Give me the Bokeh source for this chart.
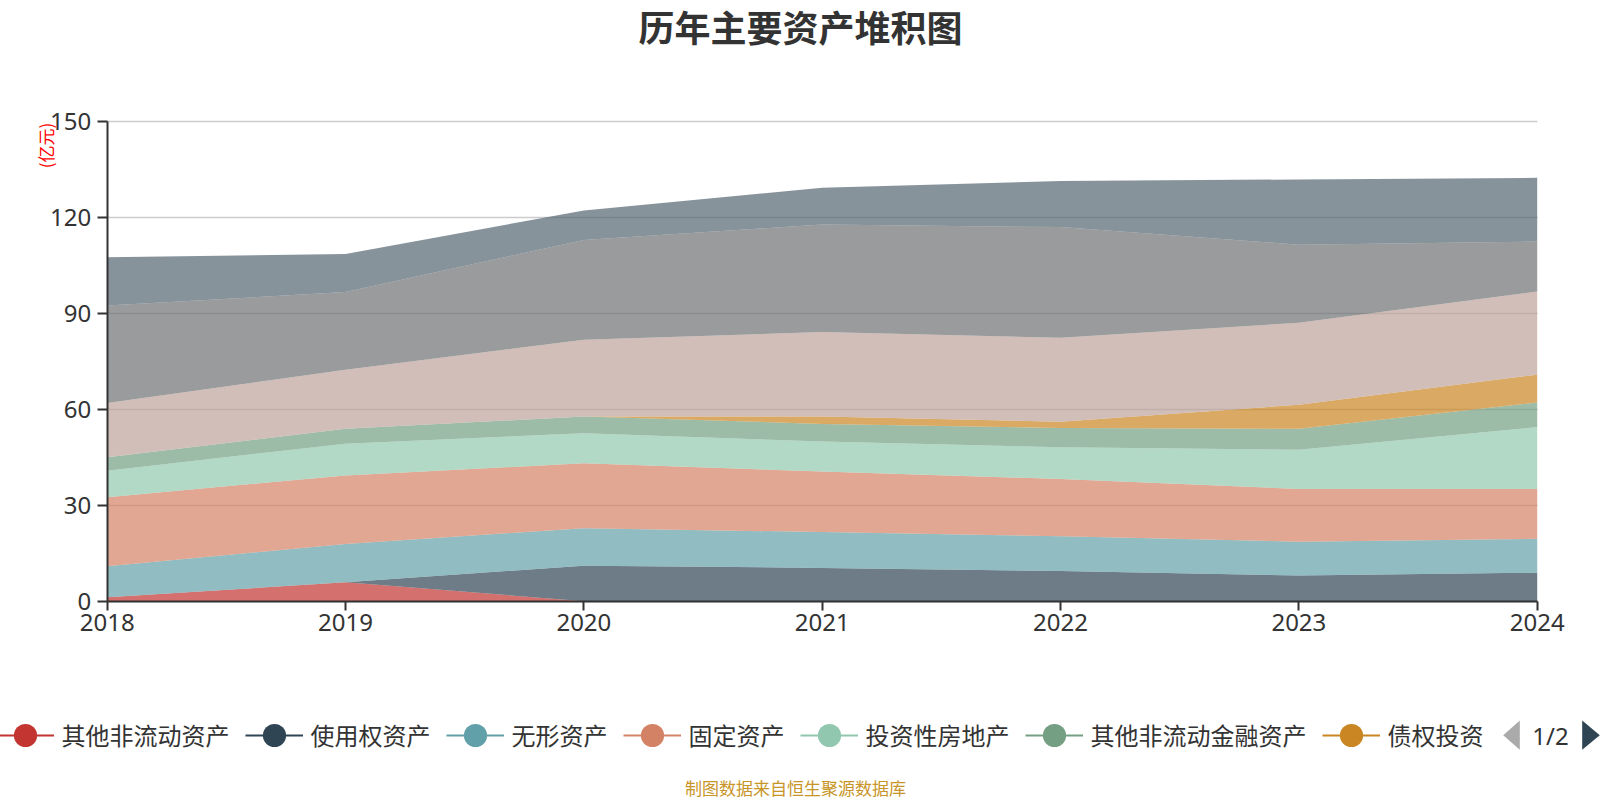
import math
from bokeh.plotting import figure
from bokeh.models import (ColumnDataSource, Range1d, FixedTicker, Legend, LegendItem,
                          Label, PolyAnnotation)
from bokeh.embed import file_html
from bokeh.resources import INLINE

# ---------------- data (亿元) ----------------
years = [2018, 2019, 2020, 2021, 2022, 2023, 2024]
y_ticks = [0, 30, 60, 90, 120, 150]

other_noncurrent = [1.2, 5.9, 0.0, 0.0, 0.0, 0.0, 0.0]          # 其他非流动资产
right_of_use = [0.0, 0.0, 11.1, 10.4, 9.4, 8.0, 8.9]            # 使用权资产
intangible = [9.7, 12.0, 11.7, 11.2, 10.9, 10.6, 10.6]          # 无形资产
fixed_assets = [21.6, 21.4, 20.3, 18.9, 17.9, 16.5, 15.6]       # 固定资产
invest_property = [8.3, 9.9, 9.4, 9.4, 9.9, 12.2, 19.3]         # 投资性房地产
other_fin = [4.2, 4.7, 5.2, 5.5, 6.0, 6.6, 7.7]                 # 其他非流动金融资产
debt_invest = [0.0, 0.0, 0.0, 2.3, 2.0, 7.5, 8.7]               # 债权投资
lt_equity = [16.9, 18.4, 24.0, 26.4, 26.2, 25.6, 26.0]          # 长期股权投资 (page 2)
construction = [30.5, 24.3, 31.2, 33.6, 34.6, 24.4, 15.6]       # 在建工程 (page 2)
deferred_tax = [15.1, 11.9, 9.2, 11.5, 14.4, 20.4, 19.9]        # 递延所得税资产 (page 2)

names = ["其他非流动资产", "使用权资产", "无形资产", "固定资产", "投资性房地产",
         "其他非流动金融资产", "债权投资", "长期股权投资", "在建工程", "递延所得税资产"]
series = [other_noncurrent, right_of_use, intangible, fixed_assets, invest_property,
          other_fin, debt_invest, lt_equity, construction, deferred_tax]
colors = ["#c23531", "#2f4554", "#61a0a8", "#d48265", "#91c7ae",
          "#749f83", "#ca8622", "#bda29a", "#6e7074", "#546570"]
legend_count = 7  # first legend page

title_text = "历年主要资产堆积图"
unit_text = "(亿元)"
source_text = "制图数据来自恒生聚源数据库"
page_text = "1/2"

# ---------------- layout (canvas pixels) ----------------
W, H = 1600, 800
plot_left, plot_right = 106.7, 1536.7     # where the first / last year sit
plot_top, plot_bottom = 120.7, 600.7      # where the top / bottom y tick sit

x_lo, x_hi = years[0], years[-1]
y_lo, y_hi = y_ticks[0], y_ticks[-1]
ppx = (plot_right - plot_left) / (x_hi - x_lo)
ppy = (plot_bottom - plot_top) / (y_hi - y_lo)
x_range = Range1d(x_lo - plot_left / ppx, x_hi + (W - plot_right) / ppx)
y_range = Range1d(y_lo - (H - plot_bottom) / ppy, y_hi + plot_top / ppy)

p = figure(width=W, height=H, output_backend="svg", toolbar_location=None,
           x_range=x_range, y_range=y_range, min_border=0)
p.title = None
p.outline_line_color = None
p.background_fill_color = "white"
p.border_fill_color = "white"

data = {"year": years}
for n, s in zip(names, series):
    data[n] = s
src = ColumnDataSource(data)

p.varea_stack(stackers=names, x="year", color=colors, fill_alpha=0.7, source=src)

# axes, pinned at the data origin so that the frame can span the whole canvas
for ax in (p.xaxis, p.yaxis):
    ax.axis_line_color = "#333333"
    ax.axis_line_width = 2
    ax.major_tick_line_color = "#333333"
    ax.major_tick_line_width = 2
    ax.minor_tick_line_color = None
    ax.major_tick_in = 0
    ax.major_label_text_font = "Noto Sans"
    ax.major_label_text_font_size = "24px"
    ax.major_label_text_color = "#333333"

p.xaxis.ticker = FixedTicker(ticks=years)
p.xaxis.bounds = (x_lo, x_hi)
p.xaxis.fixed_location = y_lo
p.xaxis.major_tick_out = 9
p.xaxis.major_label_standoff = 4
p.yaxis.ticker = FixedTicker(ticks=y_ticks)
p.yaxis.bounds = (y_lo, y_hi)
p.yaxis.fixed_location = x_lo
p.yaxis.major_tick_out = 10
p.yaxis.major_label_standoff = 6

p.xgrid.grid_line_color = None
p.ygrid.grid_line_color = "#cccccc"
p.ygrid.grid_line_width = 1.5
p.ygrid.bounds = (y_lo, y_hi)
try:
    p.ygrid.cross_bounds = (x_lo, x_hi)
except (AttributeError, ValueError):
    pass


def sy(canvas_y):
    """screen y (from the bottom of the frame) for a canvas y measured from the top."""
    return H - canvas_y


# ---------------- legend (page 1) ----------------
items = []
for n, c in list(zip(names, colors))[:legend_count]:
    lr = p.line(x="year", y=n, source=src, line_color=c, line_width=2, visible=False)
    sr = p.scatter(x="year", y=n, source=src, marker="circle", fill_color=c,
                   line_color=None, visible=False)
    items.append(LegendItem(label=n, renderers=[lr, sr]))

legend = Legend(items=items, orientation="horizontal", location=(-4.5, sy(763.7)),
                glyph_width=58, glyph_height=58, label_standoff=8, spacing=15,
                padding=0, margin=0, border_line_color=None, background_fill_alpha=0,
                label_text_font="Noto Sans CJK SC", label_text_font_size="24px",
                label_text_color="#333333", click_policy="none")
p.add_layout(legend, "center")

# pagination markers
p.add_layout(PolyAnnotation(xs=[1502.7, 1519.3, 1519.3], ys=[sy(734.7), sy(720.0), sy(749.3)],
                            xs_units="screen", ys_units="screen",
                            fill_color="#aaaaaa", fill_alpha=1, line_color=None))
p.add_layout(PolyAnnotation(xs=[1581.7, 1599.3, 1581.7], ys=[sy(720.0), sy(734.7), sy(749.3)],
                            xs_units="screen", ys_units="screen",
                            fill_color="#2f4554", fill_alpha=1, line_color=None))
p.add_layout(Label(x=1550, y=sy(734.7), x_units="screen", y_units="screen", text=page_text,
                   text_align="center", text_baseline="middle", text_font="Noto Sans",
                   text_font_size="24px", text_color="#333333"))

# ---------------- texts ----------------
p.add_layout(Label(x=800, y=sy(25.8), x_units="screen", y_units="screen", text=title_text,
                   text_align="center", text_baseline="middle",
                   text_font="Noto Sans CJK SC", text_font_size="36px",
                   text_font_style="bold", text_color="#333333"))
p.add_layout(Label(x=45, y=sy(145), x_units="screen", y_units="screen", text=unit_text,
                   angle=math.pi / 2, text_align="center", text_baseline="middle",
                   text_font="Noto Sans CJK SC", text_font_size="17px",
                   text_color="#ff0000"))
p.add_layout(Label(x=795, y=sy(786.5), x_units="screen", y_units="screen", text=source_text,
                   text_align="center", text_baseline="middle",
                   text_font="Noto Sans CJK SC", text_font_size="17px",
                   text_color="#c89528"))

open("out.html", "w").write(file_html(p, INLINE))
